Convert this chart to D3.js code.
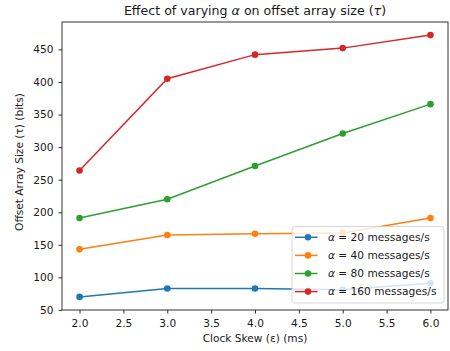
<!DOCTYPE html>
<html>
<head>
<meta charset="utf-8">
<script src="https://cdn.jsdelivr.net/npm/d3@7"></script>
<style>
  html, body { margin: 0; padding: 0; background: #fff; }
  svg { display: block; font-family: "DejaVu Sans", sans-serif; }
</style>
</head>
<body>
<svg id="chart" width="450" height="351"></svg>
<script>
// Clock skew values (ms) on the x axis
const clockSkew = [2, 3, 4, 5, 6];

// Offset array size (bits) for each message rate alpha
const alpha20 = [70, 83, 83, 81, 91];
const alpha40 = [143, 165, 167, 168, 191];
const alpha80 = [191, 220, 271, 321, 366];
const alpha160 = [264, 405, 442, 452, 472];

const seriesNames = ["20", "40", "80", "160"];
const seriesColors = ["#1f77b4", "#ff7f0e", "#2ca02c", "#d62728"];

const xTicks = [2.0, 2.5, 3.0, 3.5, 4.0, 4.5, 5.0, 5.5, 6.0];
const yTicks = [50, 100, 150, 200, 250, 300, 350, 400, 450];

const series = [alpha20, alpha40, alpha80, alpha160].map((vals, i) => ({
  name: seriesNames[i],
  color: seriesColors[i],
  points: vals.map((v, j) => ({ x: clockSkew[j], y: v }))
}));

const svg = d3.select("#chart");
const plotLeft = 62, plotRight = 448, plotTop = 22, plotBottom = 310;

// Axis limits padded by 5% of the data range, as in the plotting defaults
const allY = series.flatMap(s => s.points.map(p => p.y));
const yMin = d3.min(allY), yMax = d3.max(allY);
const yPad = (yMax - yMin) * 0.05;
const x = d3.scaleLinear().domain([1.8, 6.2]).range([plotLeft, plotRight]);
const y = d3.scaleLinear().domain([yMin - yPad, yMax + yPad]).range([plotBottom, plotTop]);

const textColor = "#1a1a1a";
const labelSize = "10.6px";

// Axes
const xAxis = svg.append("g")
  .attr("transform", `translate(0,${plotBottom})`)
  .call(d3.axisBottom(x).tickValues(xTicks).tickFormat(d3.format(".1f")).tickSize(3.5).tickPadding(5.5));
const yAxis = svg.append("g")
  .attr("transform", `translate(${plotLeft},0)`)
  .call(d3.axisLeft(y).tickValues(yTicks).tickFormat(d3.format("d")).tickSize(3.5).tickPadding(5));

[xAxis, yAxis].forEach(g => {
  g.select(".domain").remove();
  g.selectAll(".tick line").attr("stroke", "#000").attr("stroke-width", 0.8);
  g.selectAll(".tick text").attr("fill", textColor).style("font-size", labelSize)
    .style("font-family", "DejaVu Sans, sans-serif");
});

// Frame around the plotting area
svg.append("rect")
  .attr("x", plotLeft).attr("y", plotTop)
  .attr("width", plotRight - plotLeft).attr("height", plotBottom - plotTop)
  .attr("fill", "none").attr("stroke", "#000").attr("stroke-width", 0.8);

// Lines and markers
const line = d3.line().x(d => x(d.x)).y(d => y(d.y));
const plot = svg.append("g");
series.forEach(s => {
  plot.append("path")
    .datum(s.points)
    .attr("d", line)
    .attr("fill", "none")
    .attr("stroke", s.color)
    .attr("stroke-width", 1.5);
  plot.selectAll(null)
    .data(s.points)
    .enter().append("circle")
    .attr("cx", d => x(d.x))
    .attr("cy", d => y(d.y))
    .attr("r", 3.3)
    .attr("fill", s.color);
});

// Title
const title = svg.append("text")
  .attr("x", (plotLeft + plotRight) / 2).attr("y", 14.5)
  .attr("text-anchor", "middle")
  .attr("fill", textColor)
  .style("font-size", "12.6px");
title.append("tspan").text("Effect of varying ");
title.append("tspan").attr("font-style", "italic").text("α");
title.append("tspan").text(" on offset array size (");
title.append("tspan").attr("font-style", "italic").text("τ");
title.append("tspan").text(")");

// Axis labels
svg.append("text")
  .attr("x", (plotLeft + plotRight) / 2).attr("y", 342)
  .attr("text-anchor", "middle")
  .attr("fill", textColor)
  .style("font-size", labelSize)
  .text("Clock Skew (ε) (ms)");

svg.append("text")
  .attr("transform", `translate(23,162) rotate(-90)`)
  .attr("text-anchor", "middle")
  .attr("fill", textColor)
  .style("font-size", labelSize)
  .text("Offset Array Size (τ) (bits)");

// Legend
const lgX = 292, lgY = 226.5, lgW = 152, lgH = 76.5, rowH = 18.1;
const legend = svg.append("g");
legend.append("rect")
  .attr("x", lgX).attr("y", lgY).attr("width", lgW).attr("height", lgH)
  .attr("rx", 2.5)
  .attr("fill", "#fff").attr("fill-opacity", 0.8)
  .attr("stroke", "#cccccc").attr("stroke-width", 0.8);
series.forEach((s, i) => {
  const cy = lgY + 10.8 + i * rowH;
  legend.append("line")
    .attr("x1", lgX + 3).attr("x2", lgX + 25.5)
    .attr("y1", cy).attr("y2", cy)
    .attr("stroke", s.color).attr("stroke-width", 1.5);
  legend.append("circle")
    .attr("cx", lgX + 16).attr("cy", cy).attr("r", 3.3)
    .attr("fill", s.color);
  const t = legend.append("text")
    .attr("x", lgX + 36).attr("y", cy + 3.8)
    .attr("fill", textColor)
    .style("font-size", labelSize);
  t.append("tspan").attr("font-style", "italic").text("α");
  t.append("tspan").text(` = ${s.name} messages/s`);
});
</script>
</body>
</html>
